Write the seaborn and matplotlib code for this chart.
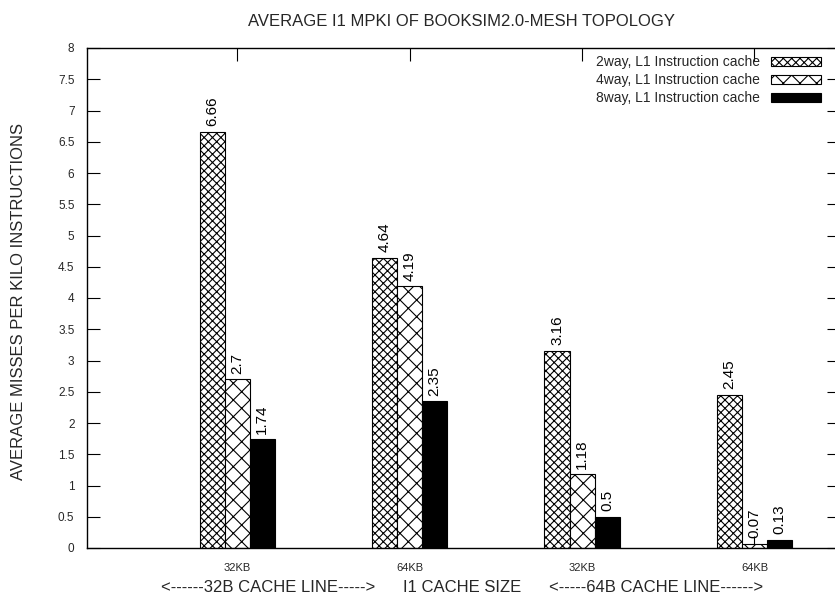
import matplotlib
matplotlib.use("Agg")
import matplotlib.pyplot as plt
import seaborn as sns
import pandas as pd
from matplotlib.patches import Patch

groups = ["32KB|32B", "64KB|32B", "32KB|64B", "64KB|64B"]
tick_labels = ["32KB", "64KB", "32KB", "64KB"]
series = ["2way, L1 Instruction cache", "4way, L1 Instruction cache", "8way, L1 Instruction cache"]
way2 = [6.66, 4.64, 3.16, 2.45]
way4 = [2.7, 4.19, 1.18, 0.07]
way8 = [1.74, 2.35, 0.5, 0.13]

rows = []
for s, vals in zip(series, [way2, way4, way8]):
    for g, v in zip(groups, vals):
        rows.append({"group": g, "series": s, "mpki": v})
df = pd.DataFrame(rows)

sns.set_theme(style="ticks")
plt.rcParams["font.family"] = ["Liberation Sans", "DejaVu Sans"]
plt.rcParams["hatch.linewidth"] = 0.8
plt.rcParams["hatch.color"] = "black"

W, H = 835, 599
fig = plt.figure(figsize=(W / 100, H / 100), dpi=100)
L, R, T, B = 87, 839, 48, 548
ax = fig.add_axes([L / W, (H - B) / H, (R - L) / W, (B - T) / H])

colors = ["white", "white", "black"]
hatches = ["xxxx", "xx", ""]
sns.barplot(data=df, x="group", y="mpki", hue="series", order=groups, hue_order=series,
            palette=colors, width=0.435, edgecolor="black", linewidth=0.8,
            legend=False, ax=ax, saturation=1)

for cont, h, vals in zip(ax.containers, hatches, [way2, way4, way8]):
    for p in cont:
        p.set_hatch(h)
    ax.bar_label(cont, labels=[f"{v:g}" for v in vals], rotation=90, padding=4,
                 fontsize=11, color="black")

ax.set_xlim(-0.87, 3.49)
ax.set_ylim(0, 8)
ax.set_yticks([i * 0.5 for i in range(17)])
ax.set_yticklabels([f"{i*0.5:g}" for i in range(17)], fontsize=8.5)
ax.set_xticks(range(4))
ax.set_xticklabels(tick_labels, fontsize=8, family=["Liberation Sans Narrow", "Liberation Sans"])
ax.tick_params(axis="both", direction="in", length=9, width=0.8, top=True, right=True, color="black")
ax.tick_params(axis="x", pad=11)
ax.tick_params(axis="y", pad=9)
for sp in ax.spines.values():
    sp.set_visible(True)
    sp.set_color("black")
    sp.set_linewidth(1.0)
ax.set_xlabel("")
ax.set_ylabel("")

handles = [Patch(facecolor=c, edgecolor="black", hatch=h, linewidth=0.8) for c, h in zip(colors, hatches)]
ax.legend(handles, series, loc="upper right", bbox_to_anchor=(821 / W, (H - 55) / H),
          bbox_transform=fig.transFigure, frameon=False, markerfirst=False,
          fontsize=10, handlelength=3.6, handleheight=0.6, labelspacing=0.3,
          handletextpad=0.8, borderpad=0, borderaxespad=0)

fig.text(461 / W, (H - 22) / H, "AVERAGE I1 MPKI OF BOOKSIM2.0-MESH TOPOLOGY",
         ha="center", va="center", fontsize=12)
fig.text(462 / W, (H - 588) / H,
         "<------32B CACHE LINE----->      I1 CACHE SIZE      <-----64B CACHE LINE------>",
         ha="center", va="center", fontsize=12)
fig.text(19 / W, (H - 301) / H, "AVERAGE MISSES PER KILO INSTRUCTIONS",
         ha="center", va="center", rotation=90, fontsize=12)

fig.savefig("out.png", dpi=100)
